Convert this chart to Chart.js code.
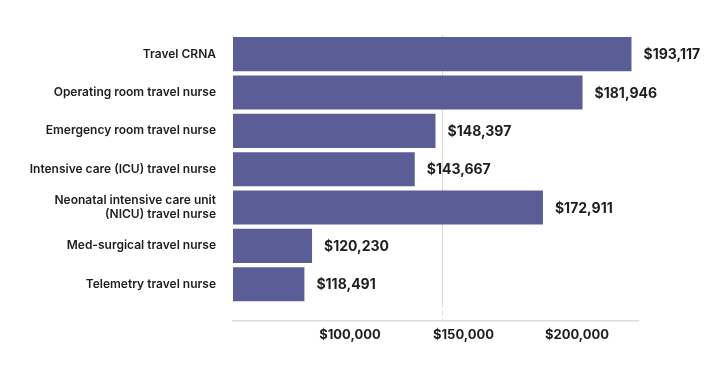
<!DOCTYPE html>
<html>
<head>
<meta charset="utf-8">
<script src="https://cdn.jsdelivr.net/npm/chart.js@4/dist/chart.umd.min.js"></script>
<style>
  html, body { margin: 0; padding: 0; background: #ffffff; }
  #wrap { width: 720px; height: 375px; position: relative; }
</style>
</head>
<body>
<div id="wrap"><canvas id="c" width="720" height="375"></canvas></div>
<script>
// ---- data ----
const categories = [
  "Travel CRNA",
  "Operating room travel nurse",
  "Emergency room travel nurse",
  "Intensive care (ICU) travel nurse",
  ["Neonatal intensive care unit", "(NICU) travel nurse"],
  "Med-surgical travel nurse",
  "Telemetry travel nurse"
];
const salaries = [193117, 181946, 148397, 143667, 172911, 120230, 118491];
const tickValues = [100000, 150000, 200000];
const gridValues = [150000];

const money = v => "$" + v.toLocaleString("en-US");
const FONT = "Inter, 'Open Sans', sans-serif";

const valueLabels = {
  id: "valueLabels",
  afterDatasetsDraw(chart) {
    const ctx = chart.ctx;
    const meta = chart.getDatasetMeta(0);
    ctx.save();
    ctx.font = "700 14px " + FONT;
    ctx.fillStyle = "#1e1e1e";
    ctx.textAlign = "left";
    ctx.textBaseline = "middle";
    meta.data.forEach((el, i) => {
      ctx.fillText(money(salaries[i]), el.x + 12, el.y + 1);
    });
    ctx.restore();
  }
};

new Chart(document.getElementById("c"), {
  type: "bar",
  data: {
    labels: categories,
    datasets: [{
      data: salaries,
      backgroundColor: "#5b5e96",
      borderWidth: 0,
      categoryPercentage: 1.0,
      barPercentage: 0.89
    }]
  },
  options: {
    indexAxis: "y",
    responsive: false,
    animation: false,
    layout: { padding: { top: 35, right: 82, bottom: 25, left: 0 } },
    plugins: { legend: { display: false }, tooltip: { enabled: false } },
    scales: {
      y: {
        type: "category",
        grid: { display: false, drawTicks: false },
        border: { display: false },
        ticks: {
          padding: 17,
          color: "#1e1e1e",
          font: { family: FONT, size: 12, weight: "600" }
        },
        afterFit(scale) { scale.width = 233; }
      },
      x: {
        type: "linear",
        position: "bottom",
        weight: 0,
        min: 102200,
        max: 194600,
        afterBuildTicks(scale) { scale.ticks = gridValues.map(v => ({ value: v })); },
        ticks: { display: false },
        border: { display: false },
        grid: {
          color: "#d8d8d8",
          lineWidth: 1,
          borderDash: [4, 4],
          drawTicks: true,
          tickLength: 17,
          tickBorderDash: [4, 4],
          tickColor: "#d8d8d8"
        },
        afterFit(scale) { scale.height = 17; }
      },
      x2: {
        type: "linear",
        position: "bottom",
        weight: 1,
        min: 48458,
        max: 226872,
        afterBuildTicks(scale) { scale.ticks = tickValues.map(v => ({ value: v })); },
        grid: { display: true, drawOnChartArea: false, drawTicks: false },
        border: { display: true, color: "#dcdcdc", width: 1.5 },
        ticks: {
          padding: 7,
          color: "#1e1e1e",
          font: { family: FONT, size: 13, weight: "700" },
          callback: v => money(v)
        }
      }
    }
  },
  plugins: [valueLabels]
});
</script>
</body>
</html>
